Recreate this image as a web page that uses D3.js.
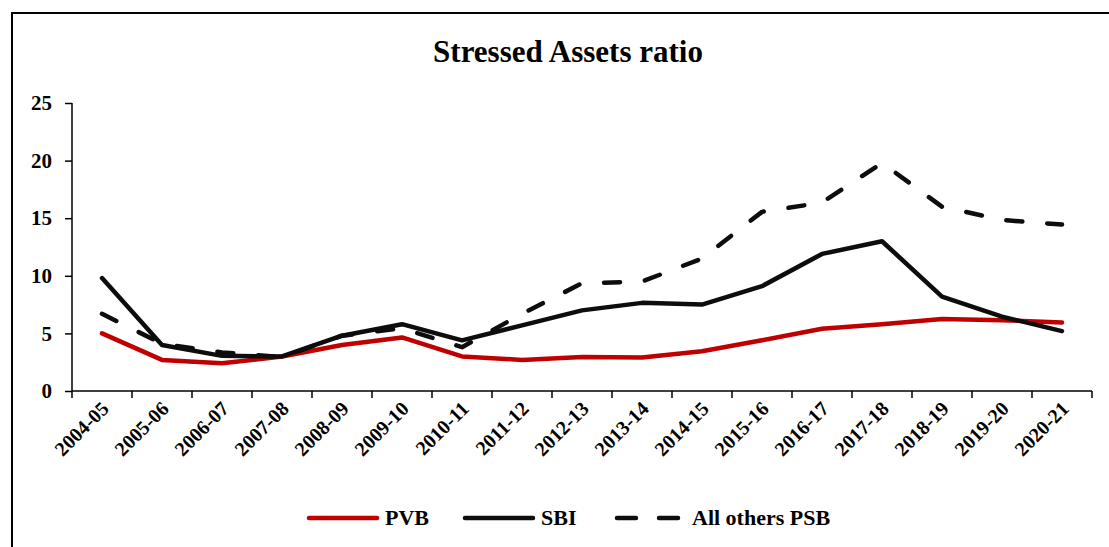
<!DOCTYPE html>
<html>
<head>
<meta charset="utf-8">
<script src="https://cdn.jsdelivr.net/npm/d3@7"></script>
<style>
  body { margin: 0; background: #fff; }
  text { font-family: "Liberation Serif", "DejaVu Serif", serif; font-weight: bold; fill: #000; }
</style>
</head>
<body>
<svg id="chart"></svg>
<script>
// years on the x axis
const years = ["2004-05", "2005-06", "2006-07", "2007-08", "2008-09", "2009-10", "2010-11",
  "2011-12", "2012-13", "2013-14", "2014-15", "2015-16", "2016-17", "2017-18",
  "2018-19", "2019-20", "2020-21"];

// values
const pvb = [5.0, 2.7, 2.4, 3.0, 4.0, 4.65, 3.0, 2.7, 2.95, 2.9, 3.45, 4.4, 5.4, 5.8, 6.25, 6.15, 5.95];
const sbi = [9.8, 4.0, 3.05, 3.0, 4.8, 5.8, 4.4, 5.7, 7.0, 7.65, 7.5, 9.1, 11.9, 13.0, 8.2, 6.45, 5.2];
const others = [6.7, 4.1, 3.35, 2.95, 4.8, 5.45, 3.8, 6.7, 9.35, 9.5, 11.5, 15.55, 16.35, 19.8, 16.0, 14.85, 14.45];

const yTicks = [0, 5, 10, 15, 20, 25];

const series = [
  {name: "PVB", values: pvb, color: "#c00000", dash: null},
  {name: "SBI", values: sbi, color: "#0d0d0d", dash: null},
  {name: "All others PSB", values: others, color: "#0d0d0d", dash: "16 25"}
];

const W = 1109, H = 547;
const margin = {top: 103, left: 72, right: 17, bottom: 156};

const svg = d3.select("#chart").attr("width", W).attr("height", H);

// outer frame (runs off the page on the right and bottom)
svg.append("rect")
  .attr("x", 12).attr("y", 13)
  .attr("width", W + 20).attr("height", H + 20)
  .attr("fill", "none").attr("stroke", "#000").attr("stroke-width", 2);

svg.append("text")
  .attr("x", 568).attr("y", 62)
  .attr("text-anchor", "middle")
  .style("font-size", "31px")
  .text("Stressed Assets ratio");

const x = d3.scaleBand()
  .domain(years)
  .range([margin.left, W - margin.right]);

const y = d3.scaleLinear()
  .domain([0, 25])
  .range([H - margin.bottom, margin.top]);

// y axis
const yAxis = svg.append("g")
  .attr("transform", `translate(${margin.left},0)`)
  .call(d3.axisLeft(y).tickValues(yTicks).tickSize(7).tickPadding(13));
yAxis.selectAll("line, path").attr("stroke", "#000").attr("stroke-width", 1.5);
yAxis.select(".domain").attr("d", `M0,${y(25)}V${y(0)}`);
yAxis.selectAll("text")
  .style("font-family", "Liberation Serif, serif")
  .style("font-weight", "bold")
  .style("font-size", "21px");

// x axis, ticks on band edges
const xAxis = svg.append("g")
  .attr("transform", `translate(0,${y(0)})`);
xAxis.append("line")
  .attr("x1", x.range()[0]).attr("x2", x.range()[1])
  .attr("stroke", "#000").attr("stroke-width", 1.5);
xAxis.selectAll("line.tick")
  .data(years.concat(["end"]))
  .join("line")
    .attr("class", "tick")
    .attr("x1", (d, i) => x.range()[0] + i * x.step())
    .attr("x2", (d, i) => x.range()[0] + i * x.step())
    .attr("y1", 0).attr("y2", 7)
    .attr("stroke", "#000").attr("stroke-width", 1.5);
xAxis.selectAll("text")
  .data(years)
  .join("text")
    .attr("text-anchor", "end")
    .attr("transform", d => `translate(${x(d) + x.bandwidth() / 2 + 8},${19}) rotate(-45)`)
    .style("font-size", "20px")
    .text(d => d);

// lines
const line = d3.line()
  .x((d, i) => x(years[i]) + x.bandwidth() / 2)
  .y(d => y(d));

svg.selectAll("path.series")
  .data(series)
  .join("path")
    .attr("class", "series")
    .attr("d", d => line(d.values))
    .attr("fill", "none")
    .attr("stroke", d => d.color)
    .attr("stroke-width", 4.5)
    .attr("stroke-linejoin", "round")
    .attr("stroke-linecap", "round")
    .attr("stroke-dasharray", d => d.dash);

// legend
const legendX = [309, 465, 617];
const legend = svg.selectAll("g.legend")
  .data(series)
  .join("g")
    .attr("class", "legend")
    .attr("transform", (d, i) => `translate(${legendX[i]},518)`);
legend.append("line")
  .attr("x1", 0).attr("x2", d => d.dash ? 62 : 68)
  .attr("stroke", d => d.color)
  .attr("stroke-width", 4.5)
  .attr("stroke-linecap", "round")
  .attr("stroke-dasharray", d => d.dash ? "19 23" : null);
legend.append("text")
  .attr("x", d => d.dash ? 75 : 76)
  .attr("y", 7)
  .style("font-size", "22px")
  .text(d => d.name);
</script>
</body>
</html>
